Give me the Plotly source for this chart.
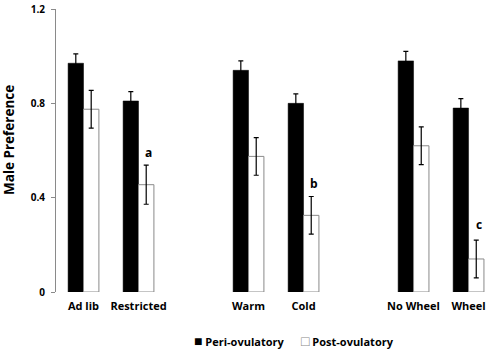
import plotly.graph_objects as go

categories = ["Ad lib", "Restricted", "Warm", "Cold", "No Wheel", "Wheel"]
positions = [0, 1, 3, 4, 6, 7]
peri = [0.97, 0.81, 0.94, 0.80, 0.98, 0.78]
peri_err = [0.04, 0.04, 0.04, 0.04, 0.04, 0.04]
post = [0.775, 0.455, 0.575, 0.325, 0.62, 0.14]
post_err = [0.08, 0.083, 0.08, 0.08, 0.08, 0.08]
sig_labels = ["", "a", "", "b", "", "c"]
sig_y = [0, 0.59, 0, 0.46, 0, 0.285]

font = "Open Sans"
L, T, B, W, H = 56, 9, 58, 490, 350
pw = W - L
ph = H - T - B

fig = go.Figure()
fig.add_trace(go.Bar(
    x=positions, y=peri, name="Peri-ovulatory",
    marker=dict(color="black", line=dict(color="black", width=0.5)),
    error_y=dict(type="data", array=peri_err, color="black", thickness=1.2, width=2.5),
))
fig.add_trace(go.Bar(
    x=positions, y=post, name="Post-ovulatory",
    marker=dict(color="white", line=dict(color="#8a8a8a", width=1)),
    error_y=dict(type="data", array=post_err, color="black", thickness=1.2, width=2.5),
))

for p, lab, yy in zip(positions, sig_labels, sig_y):
    if lab:
        fig.add_annotation(x=p, y=yy, text=lab, showarrow=False, xshift=10,
                           font=dict(family=font, size=12, color="black", weight="bold"))

# y-axis title
fig.add_annotation(xref="paper", yref="paper", x=(9 - L) / pw, y=(292 - 140) / ph,
                   text="Male Preference", textangle=-90, showarrow=False,
                   xanchor="center", yanchor="middle",
                   font=dict(family=font, size=13.5, color="black", weight="bold"))

# legend (drawn as text)
leg_y = (292 - 340) / ph
fig.add_annotation(xref="paper", yref="paper", x=(192 - L) / pw, y=leg_y,
                   text="<span style='font-size:14px'>■</span> Peri-ovulatory", showarrow=False,
                   xanchor="left", yanchor="middle",
                   font=dict(family=font, size=11, color="black", weight="bold"))
fig.add_annotation(xref="paper", yref="paper", x=(299 - L) / pw, y=leg_y,
                   text="<span style='font-size:14px;color:#888888'>□</span> Post-ovulatory",
                   showarrow=False, xanchor="left", yanchor="middle",
                   font=dict(family=font, size=11, color="black", weight="bold"))

fig.update_layout(
    width=W, height=H,
    margin=dict(l=L, r=0, t=T, b=B),
    barmode="group", bargap=0.44, bargroupgap=0,
    plot_bgcolor="white", paper_bgcolor="white",
    font=dict(family=font, size=11, color="black"),
    showlegend=False,
    xaxis=dict(range=[-0.5, 7.39], tickmode="array", tickvals=positions, ticktext=categories,
               showline=False, showgrid=False, zeroline=False, ticks="", automargin=False,
               ticklabelstandoff=6,
               tickfont=dict(family=font, size=11, color="black", weight="bold")),
    yaxis=dict(range=[0, 1.2], tickvals=[0, 0.4, 0.8, 1.2], ticktext=["0", "0.4", "0.8", "1.2"],
               showline=True, linecolor="#8a8a8a", linewidth=1, showgrid=False, zeroline=False,
               ticks="outside", ticklen=4, tickcolor="#8a8a8a", automargin=False,
               ticklabelstandoff=4,
               tickfont=dict(family=font, size=10, color="black", weight="bold")),
)

fig.write_html("out.html", config={"displayModeBar": False},
               post_script="document.body.style.margin='0';document.body.style.overflow='hidden';")
